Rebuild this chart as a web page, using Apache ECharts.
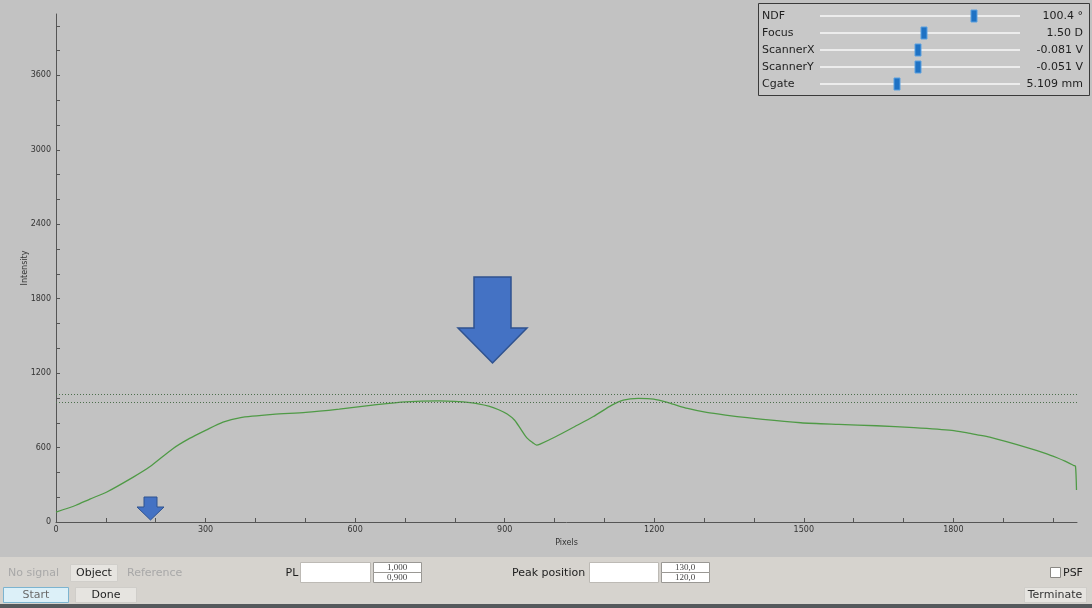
<!DOCTYPE html>
<html>
<head>
<meta charset="utf-8">
<script src="https://cdn.jsdelivr.net/npm/echarts@6/dist/echarts.min.js"></script>
<style>
html,body{margin:0;padding:0;background:#c2c2c2;}
#chart{width:1092px;height:608px;}
</style>
</head>
<body>
<div id="chart"></div>
<script>
// ---- data ----
const pixels = [0, 40, 68, 101, 155, 188, 235, 268, 301, 335, 368, 435, 501, 568, 635, 701, 768, 835, 868, 888, 905, 920, 932, 944, 956, 964, 971, 1002, 1040, 1077, 1115, 1138, 1168, 1199, 1229, 1267, 1305, 1343, 1418, 1494, 1570, 1646, 1721, 1797, 1828, 1848, 1873, 1948, 1986, 2008, 2024, 2042, 2045, 2047];
const intensity = [80, 135, 185, 240, 362, 445, 593, 674, 741, 805, 840, 867, 883, 910, 942, 969, 977, 961, 934, 905, 870, 820, 750, 680, 640, 620, 628, 687, 768, 848, 942, 983, 996, 991, 961, 915, 883, 862, 827, 800, 787, 776, 760, 738, 718, 703, 684, 600, 552, 518, 490, 455, 449, 258];
const thresholds = [1028, 964];
const yLabelValues = [0, 600, 1200, 1800, 2400, 3000, 3600];
const yTickValues = [0, 200, 400, 600, 800, 1000, 1200, 1400, 1600, 1800, 2000, 2200, 2400, 2600, 2800, 3000, 3200, 3400, 3600, 3800, 4000];
const xLabelValues = [0, 300, 600, 900, 1200, 1500, 1800];
const xTickValues = [0, 100, 200, 300, 400, 500, 600, 700, 800, 900, 1000, 1100, 1200, 1300, 1400, 1500, 1600, 1700, 1800, 1900, 2000];
const sliderNames = ['NDF', 'Focus', 'ScannerX', 'ScannerY', 'Cgate'];
const sliderValues = ['100.4 °', '1.50 D', '-0.081 V', '-0.051 V', '5.109 mm'];
const sliderPositions = [0.77, 0.52, 0.49, 0.49, 0.385];

const lineData = pixels.map((p, i) => [p, intensity[i]]);
const FONT = 'DejaVu Sans';

const chart = echarts.init(document.getElementById('chart'), null, {renderer: 'canvas'});

// UI decoration (control panel + toolbar)
const g = [];
g.push({type: 'rect', shape: {x: 758.5, y: 3.5, width: 331, height: 92}, style: {fill: '#c8c8c8', stroke: '#3a3a3a', lineWidth: 1}, z: 10});
sliderNames.forEach((n, i) => {
  const cy = 16 + i * 17;
  g.push({type: 'text', x: 762, y: cy, style: {text: n, font: '11px ' + FONT, fill: '#1e1e1e', textVerticalAlign: 'middle'}, z: 11});
  g.push({type: 'line', shape: {x1: 820, y1: cy, x2: 1020, y2: cy}, style: {stroke: '#ececec', lineWidth: 2}, z: 11});
  const hx = 820 + sliderPositions[i] * 200;
  g.push({type: 'rect', shape: {x: hx - 3, y: cy - 6, width: 6, height: 12}, style: {fill: '#1f72c4', stroke: '#5aa0e0', lineWidth: 1}, z: 12});
  g.push({type: 'text', x: 1083, y: cy, style: {text: sliderValues[i], font: '11px ' + FONT, fill: '#1e1e1e', textAlign: 'right', textVerticalAlign: 'middle'}, z: 11});
});
// annotation arrows
g.push({type: 'polygon', shape: {points: [[474, 277], [511, 277], [511, 328], [527, 328], [492.5, 363], [458, 328], [474, 328]]}, style: {fill: '#4472c4', stroke: '#2f528f', lineWidth: 1.5}, z: 12});
g.push({type: 'polygon', shape: {points: [[144, 497], [157, 497], [157, 507], [164, 507], [150.5, 520], [137, 507], [144, 507]]}, style: {fill: '#4472c4', stroke: '#2f528f', lineWidth: 1}, z: 12});
// bottom toolbar
g.push({type: 'rect', shape: {x: 0, y: 557, width: 1092, height: 51}, style: {fill: '#d6d3ce'}, z: 5});
g.push({type: 'rect', shape: {x: 0, y: 604, width: 1092, height: 4}, style: {fill: '#55595c'}, z: 6});
g.push({type: 'text', x: 8, y: 573, style: {text: 'No signal', font: '11px ' + FONT, fill: '#a8a8a8', textVerticalAlign: 'middle'}, z: 7});
g.push({type: 'rect', shape: {x: 70.5, y: 564.5, width: 47, height: 17}, style: {fill: '#e6e4e0', stroke: '#d0ceca'}, z: 6});
g.push({type: 'text', x: 94, y: 573, style: {text: 'Object', font: '11px ' + FONT, fill: '#1e1e1e', textAlign: 'center', textVerticalAlign: 'middle'}, z: 7});
g.push({type: 'text', x: 127, y: 573, style: {text: 'Reference', font: '11px ' + FONT, fill: '#a8a8a8', textVerticalAlign: 'middle'}, z: 7});
g.push({type: 'rect', shape: {x: 3.5, y: 587.5, width: 65, height: 15}, style: {fill: '#dcf0f8', stroke: '#7cb4d0'}, z: 6});
g.push({type: 'text', x: 36, y: 595, style: {text: 'Start', font: '11px ' + FONT, fill: '#6a6a6a', textAlign: 'center', textVerticalAlign: 'middle'}, z: 7});
g.push({type: 'rect', shape: {x: 75.5, y: 587.5, width: 61, height: 15}, style: {fill: '#e6e4e0', stroke: '#cfcdc9'}, z: 6});
g.push({type: 'text', x: 106, y: 595, style: {text: 'Done', font: '11px ' + FONT, fill: '#1e1e1e', textAlign: 'center', textVerticalAlign: 'middle'}, z: 7});
g.push({type: 'text', x: 292, y: 573, style: {text: 'PL', font: '11px ' + FONT, fill: '#1e1e1e', textAlign: 'center', textVerticalAlign: 'middle'}, z: 7});
g.push({type: 'rect', shape: {x: 300.5, y: 562.5, width: 70, height: 20}, style: {fill: '#ffffff', stroke: '#bdbab5'}, z: 6});
g.push({type: 'rect', shape: {x: 373.5, y: 562.5, width: 48, height: 10}, style: {fill: '#ffffff', stroke: '#9a9894'}, z: 6});
g.push({type: 'rect', shape: {x: 373.5, y: 572.5, width: 48, height: 10}, style: {fill: '#ffffff', stroke: '#9a9894'}, z: 6});
g.push({type: 'text', x: 397, y: 567.5, style: {text: '1,000', font: '9px "Liberation Serif"', fill: '#444', textAlign: 'center', textVerticalAlign: 'middle'}, z: 7});
g.push({type: 'text', x: 397, y: 577.5, style: {text: '0,900', font: '9px "Liberation Serif"', fill: '#444', textAlign: 'center', textVerticalAlign: 'middle'}, z: 7});
g.push({type: 'text', x: 512, y: 573, style: {text: 'Peak position', font: '11px ' + FONT, fill: '#1e1e1e', textVerticalAlign: 'middle'}, z: 7});
g.push({type: 'rect', shape: {x: 589.5, y: 562.5, width: 69, height: 20}, style: {fill: '#ffffff', stroke: '#bdbab5'}, z: 6});
g.push({type: 'rect', shape: {x: 661.5, y: 562.5, width: 48, height: 10}, style: {fill: '#ffffff', stroke: '#9a9894'}, z: 6});
g.push({type: 'rect', shape: {x: 661.5, y: 572.5, width: 48, height: 10}, style: {fill: '#ffffff', stroke: '#9a9894'}, z: 6});
g.push({type: 'text', x: 685, y: 567.5, style: {text: '130,0', font: '9px "Liberation Serif"', fill: '#444', textAlign: 'center', textVerticalAlign: 'middle'}, z: 7});
g.push({type: 'text', x: 685, y: 577.5, style: {text: '120,0', font: '9px "Liberation Serif"', fill: '#444', textAlign: 'center', textVerticalAlign: 'middle'}, z: 7});
g.push({type: 'rect', shape: {x: 1050.5, y: 567.5, width: 10, height: 10}, style: {fill: '#ffffff', stroke: '#8a8884'}, z: 6});
g.push({type: 'text', x: 1063, y: 573, style: {text: 'PSF', font: '11px ' + FONT, fill: '#1e1e1e', textVerticalAlign: 'middle'}, z: 7});
g.push({type: 'rect', shape: {x: 1024.5, y: 587.5, width: 62, height: 15}, style: {fill: '#e6e4e0', stroke: '#cfcdc9'}, z: 6});
g.push({type: 'text', x: 1055, y: 595, style: {text: 'Terminate', font: '11px ' + FONT, fill: '#333', textAlign: 'center', textVerticalAlign: 'middle'}, z: 7});

const plain = v => String(Math.round(v));

const option = {
  backgroundColor: '#c2c2c2',
  animation: false,
  grid: {left: 56, right: 15, top: 14, bottom: 86, containLabel: false},
  xAxis: {
    type: 'value', min: 0, max: 2048,
    name: 'Pixels', nameLocation: 'middle', nameGap: 17,
    nameTextStyle: {fontFamily: FONT, fontSize: 8, color: '#333'},
    axisLine: {show: true, lineStyle: {color: '#555', width: 1}},
    axisTick: {show: true, inside: true, length: 4, customValues: xTickValues, lineStyle: {color: '#555'}},
    axisLabel: {customValues: xLabelValues, formatter: plain, fontFamily: FONT, fontSize: 8, color: '#333', margin: 4},
    splitLine: {show: false}
  },
  yAxis: {
    type: 'value', min: 0, max: 4095,
    name: 'Intensity', nameLocation: 'middle', nameGap: 27, nameRotate: 90, nameMoveOverlap: false,
    nameTextStyle: {fontFamily: FONT, fontSize: 8, color: '#333'},
    axisLine: {show: true, lineStyle: {color: '#555', width: 1}},
    axisTick: {show: true, inside: true, length: 4, customValues: yTickValues, lineStyle: {color: '#555'}},
    axisLabel: {customValues: yLabelValues, formatter: plain, fontFamily: FONT, fontSize: 8, color: '#333', margin: 5},
    splitLine: {show: false}
  },
  series: [{
    type: 'line',
    data: lineData,
    smooth: 0.25,
    showSymbol: false,
    lineStyle: {color: '#4f9a46', width: 1.3},
    markLine: {
      silent: true, symbol: 'none', label: {show: false},
      lineStyle: {color: '#4c6e4c', type: [1, 2], width: 1},
      data: thresholds.map(v => ({yAxis: v}))
    }
  }],
  graphic: g
};
chart.setOption(option);
</script>
</body>
</html>
